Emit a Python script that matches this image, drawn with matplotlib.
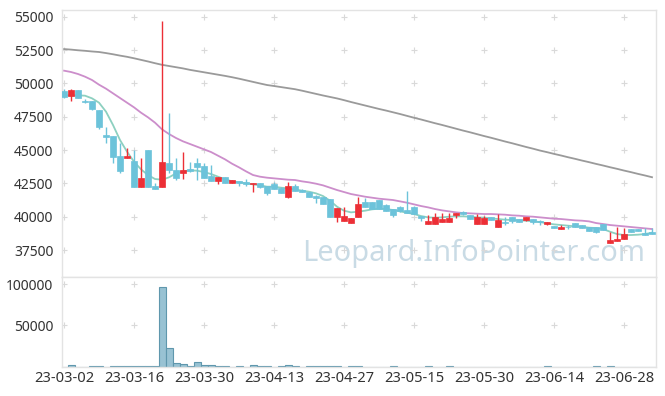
import matplotlib
matplotlib.use("Agg")
import matplotlib.pyplot as plt
import numpy as np

plt.rcParams['font.family'] = ['Noto Sans', 'DejaVu Sans']

dates = ["23-03-02", "23-03-16", "23-03-30", "23-04-13", "23-04-27",
         "23-05-15", "23-05-30", "23-06-14", "23-06-28"]

opens = [49430, 49075, 49500, 48700, 48675, 48000, 46100, 46050, 44550, 44430,
         44200, 42250, 45000, 42300, 42250, 44000, 43500, 43300, 43550, 44050,
         43800, 43050, 42700, 42950, 42500, 42700, 42625, 42425, 42550, 42300,
         42450, 42125, 41500, 42300, 42000, 41875, 41550, 41450, 41300, 39950,
         39700, 39500, 40000, 41075, 41100, 41250, 40875, 40575, 40725, 40500,
         40725, 40025, 39475, 39475, 39575, 39575, 40125, 40325, 40100, 39450,
         39475, 39950, 39250, 39600, 39950, 39800, 39775, 39850, 39650, 39425,
         39325, 39100, 39250, 39525, 39375, 39250, 39200, 39450, 38050, 38200,
         38300, 39050, 39050, 38775, 38850]
highs = [49580, 49580, 49500, 48800, 48700, 48000, 46700, 46050, 45500, 45125,
         45000, 44375, 45000, 42550, 54650, 47750, 44375, 44875, 44100, 44375,
         44000, 43875, 42950, 42950, 42750, 42700, 42800, 42550, 42550, 42300,
         42600, 42200, 42625, 42450, 42050, 41875, 41600, 41450, 41300, 40625,
         40750, 39875, 41500, 41375, 41100, 41250, 40950, 40575, 40800, 41925,
         40800, 40025, 40100, 40250, 40300, 40250, 40250, 40450, 40100, 40175,
         40050, 39950, 40175, 40000, 39950, 39800, 39950, 39850, 39750, 39625,
         39325, 39400, 39400, 39525, 39375, 39250, 39200, 39450, 38875, 39200,
         39125, 39050, 39050, 39125, 39125]
lows = [48925, 48700, 48925, 48550, 48000, 46550, 45500, 44000, 43300, 44430,
        42200, 42250, 42250, 42100, 42200, 43250, 42750, 42800, 43375, 42750,
        42875, 42700, 42450, 42500, 42500, 42300, 42300, 41875, 42150, 41625,
        42050, 41800, 41375, 41950, 41850, 41500, 41000, 40925, 39950, 39625,
        39700, 39500, 40000, 40750, 40600, 40600, 40425, 39950, 40350, 40300,
        40175, 39675, 39475, 39475, 39575, 39575, 39875, 40100, 39800, 39450,
        39475, 39750, 39250, 39400, 39500, 39600, 39650, 39450, 39350, 39350,
        39125, 39100, 39100, 39250, 39125, 38950, 38800, 39000, 38050, 38200,
        38300, 38875, 38925, 38625, 38675]
closes = [49000, 49500, 48925, 48620, 48050, 46750, 46000, 44500, 43450, 44550,
          42200, 42875, 42250, 42100, 44125, 43475, 42875, 43500, 43400, 43750,
          42875, 42700, 42950, 42500, 42750, 42500, 42425, 42550, 42250, 41800,
          42050, 41800, 42300, 41950, 41850, 41500, 41425, 40925, 39950, 40625,
          40050, 39875, 40950, 40750, 40600, 40600, 40425, 40100, 40425, 40300,
          40175, 39900, 39675, 39950, 39850, 39900, 40250, 40175, 39800, 39950,
          39875, 39750, 39750, 39550, 39700, 39600, 39950, 39600, 39600, 39625,
          39125, 39225, 39200, 39250, 39125, 38950, 38875, 39000, 38250, 38325,
          38700, 38875, 38925, 38625, 38675]

ma_short = [49100, 49100, 49100, 49075, 48875, 48550, 47875, 46875, 45750, 44875,
            44125, 43550, 43125, 42825, 42775, 42950, 43250, 43400, 43475, 43450,
            43350, 43200, 43000, 42800, 42650, 42575, 42500, 42425, 42350, 42250,
            42250, 42175, 42125, 42050, 41950, 41875, 41750, 41550, 41200, 40750,
            40450, 40325, 40375, 40450, 40550, 40600, 40575, 40500, 40400, 40300,
            40200, 40050, 39950, 39925, 39950, 40000, 40025, 40025, 40000, 39950,
            39925, 39875, 39825, 39775, 39750, 39725, 39700, 39650, 39600, 39500,
            39425, 39375, 39325, 39275, 39250, 39175, 39150, 39075, 38875, 38700,
            38625, 38625, 38650, 38700, 38800]
ma_mid = [50950, 50850, 50700, 50500, 50250, 49900, 49600, 49250, 48900, 48550,
          48200, 47800, 47450, 47050, 46550, 46200, 45900, 45650, 45450, 45250,
          45050, 44850, 44575, 44300, 43975, 43700, 43400, 43125, 43000, 42925,
          42875, 42825, 42775, 42750, 42650, 42575, 42475, 42350, 42175, 42000,
          41850, 41700, 41600, 41500, 41425, 41350, 41300, 41250, 41150, 41050,
          40925, 40800, 40700, 40575, 40475, 40400, 40325, 40275, 40250, 40225,
          40200, 40200, 40175, 40150, 40100, 40075, 40025, 40000, 39950, 39900,
          39850, 39825, 39775, 39725, 39700, 39650, 39525, 39450, 39375, 39325,
          39275, 39225, 39175, 39125, 39075]
ma_long = [52570, 52530, 52480, 52440, 52390, 52350, 52270, 52180, 52080, 51990,
           51880, 51760, 51640, 51510, 51390, 51300, 51210, 51120, 51010, 50920,
           50830, 50740, 50650, 50560, 50460, 50350, 50230, 50110, 49990, 49875,
           49800, 49720, 49640, 49560, 49450, 49330, 49210, 49090, 48980, 48870,
           48740, 48600, 48470, 48340, 48210, 48080, 47960, 47830, 47700, 47560,
           47420, 47290, 47150, 47010, 46880, 46740, 46600, 46460, 46330, 46190,
           46050, 45920, 45780, 45640, 45510, 45370, 45230, 45100, 44960, 44840,
           44710, 44590, 44460, 44340, 44210, 44090, 43960, 43840, 43710, 43590,
           43460, 43340, 43210, 43090, 42960]

volumes = [0, 2200, 0, 0, 700, 700, 0, 700, 700, 700,
           700, 700, 700, 700, 97000, 22800, 4500, 3300, 900, 5700,
           2000, 2000, 900, 900, 0, 800, 0, 2000, 700, 700,
           0, 700, 1700, 700, 0, 700, 700, 700, 700, 700,
           0, 700, 700, 0, 0, 0, 0, 700, 0, 0,
           0, 0, 700, 0, 0, 700, 0, 0, 0, 0,
           0, 0, 0, 0, 0, 0, 0, 0, 0, 700,
           0, 0, 0, 0, 0, 0, 700, 0, 700, 0,
           0, 0, 0, 0, 0]

price_ticks = [37500, 40000, 42500, 45000, 47500, 50000, 52500, 55000]
vol_ticks = [50000, 100000]

UP = '#ec2f36'
DOWN = '#6cc3da'
GRID = '#d9d9d9'
SPINE = '#e3e3e3'
TXT = '#333333'

W, H = 665, 396
fig = plt.figure(figsize=(W / 100, H / 100), dpi=100)
fig.patch.set_facecolor('white')
left = 61.7 / W
right = 656 / W
ax = fig.add_axes([left, 1 - 277.3 / H, right - left, (277.3 - 10) / H])
axv = fig.add_axes([left, 1 - 366.5 / H, right - left, (366.5 - 277.3) / H], sharex=ax)

n = len(closes)
x = np.arange(n)
o = np.array(opens); c = np.array(closes)
hi = np.array(highs); lo = np.array(lows)
up = c >= o
colors = np.where(up, UP, DOWN)

# watermark
ax.text(0.693, 0.088, "Leopard.InfoPointer.com", transform=ax.transAxes,
        ha='center', va='center', fontsize=20.9, color='#c9dbe5', zorder=0,
        family=['Noto Sans', 'DejaVu Sans'])

# grid '+' marks
tick_pos = list(range(0, n, 10))
gx, gy = np.meshgrid(tick_pos, price_ticks)
ax.scatter(gx.ravel(), gy.ravel(), marker='+', s=16, c=GRID, linewidths=0.8, zorder=0.5)
gx2, gy2 = np.meshgrid(tick_pos, vol_ticks)
axv.scatter(gx2.ravel(), gy2.ravel(), marker='+', s=16, c=GRID, linewidths=0.8, zorder=0.5)

# moving averages
ax.plot(x, ma_long, color='#9a9a9a', lw=1.3, zorder=2)
ax.plot(x, ma_mid, color='#cc8ecb', lw=1.3, zorder=2)
ax.plot(x, ma_short, color='#8dd0c0', lw=1.3, zorder=2)

# candles
ax.vlines(x, lo, hi, colors=colors, lw=1.0, zorder=3)
body_bottom = np.minimum(o, c)
body_h = np.maximum(np.abs(c - o), 40)
ax.bar(x, body_h, bottom=body_bottom, width=0.72, color=colors, edgecolor=colors,
       linewidth=0.5, zorder=4)

# volume
axv.bar(x, volumes, width=1.0, color='#98c2d3', edgecolor='#5f97ad', linewidth=0.8, zorder=2)

ax.set_xlim(-0.33, n - 1 + 0.57)
ax.set_ylim(35455, 55500)
axv.set_ylim(0, 108500)

ax.set_yticks(price_ticks)
ax.set_yticklabels([str(t) for t in price_ticks])
axv.set_yticks(vol_ticks)
axv.set_yticklabels([str(t) for t in vol_ticks])
axv.set_xticks(tick_pos)
axv.set_xticklabels(dates)
plt.setp(ax.get_xticklabels(), visible=False)

for a in (ax, axv):
    a.set_facecolor('white')
    for s in a.spines.values():
        s.set_color(SPINE)
        s.set_linewidth(1.0)
    a.tick_params(axis='y', length=0, labelsize=10.0, colors=TXT, pad=6)
    a.tick_params(axis='x', length=0, labelsize=10.6, colors=TXT)
axv.tick_params(axis='x', pad=3)

fig.savefig('out.png', dpi=100, facecolor='white')
